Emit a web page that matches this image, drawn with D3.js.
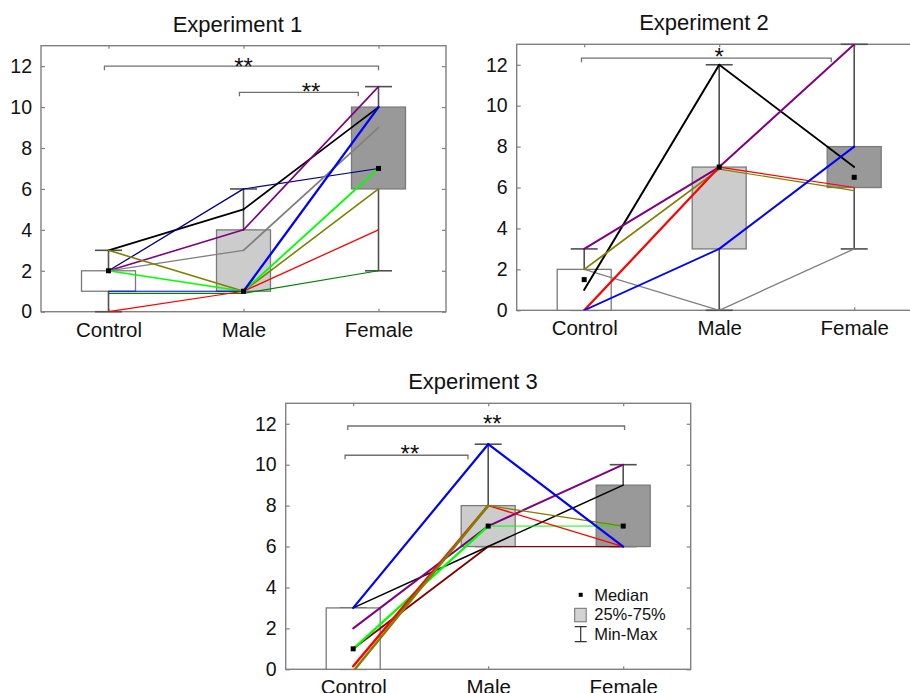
<!DOCTYPE html>
<html>
<head>
<meta charset="utf-8">
<script src="https://cdn.jsdelivr.net/npm/d3@7"></script>
<style>
  body { margin: 0; background: #fff; }
  svg { display: block; }
  text { font-family: "Liberation Sans", Arial, sans-serif; fill: #111; }
</style>
</head>
<body>
<div id="chart"></div>
<script>
var categories = ["Control", "Male", "Female"];
var yTicks = [0, 2, 4, 6, 8, 10, 12];
var titles = ["Experiment 1", "Experiment 2", "Experiment 3"];
var legendLabels = ["Median", "25%-75%", "Min-Max"];

// box stats per category: [min, q1, median, q3, max]
var exp1Box = [[0, 1, 2, 2, 3], [1, 1, 1, 4, 6], [2, 6, 7, 10, 11]];
var exp2Box = [[0, 0, 1.5, 2, 3], [0, 3, 7, 7, 12], [3, 6, 6.5, 8, 13]];
var exp3Box = [[0, 0, 1, 3, 3], [6, 6, 7, 8, 11], [6, 6, 7, 9, 10]];

// individual subjects: [Control, Male, Female]
var exp1Subjects = [
    [3, 5, 10],
    [2, 6, 7],
    [2, 4, 11],
    [2, 3, 9],
    [3, 1, 6],
    [2, 1, 7],
    [1, 1, 10],
    [0.9, 0.9, 2],
    [0, 1, 4]
];
var exp2Subjects = [
    [2, 0, 3],
    [1, 12, 7],
    [3, 7, 13],
    [2, 6.9, 5.85],
    [0, 7, 6],
    [0, 3, 8]
];
var exp3Subjects = [
    [1, 6, 6],
    [3, 6, 9],
    [2, 7, 10],
    [1, 7, 7],
    [0.15, 8, 6],
    [-0.1, 8, 7],
    [3, 11, 6]
];

// significance brackets: [from, to, height, label, label x, label y] (category / y units)
var exp1Sig = [[-0.03, 2.0, 12, "**", 1.0, 12.25], [0.97, 1.85, 10.72, "**", 1.5, 11.05]];
var exp2Sig = [[-0.02, 1.83, 12.32, "*", 1.0, 12.69]];
var exp3Sig = [[-0.04, 2.01, 11.89, "**", 1.03, 12.3], [-0.06, 0.85, 10.46, "**", 0.42, 10.79]];

// styles (widths per segment: Control-Male, Male-Female)
var exp1Colors = ["#000000", "#000080", "#800080", "#808080", "#808000", "#00ff00", "#0000ff", "#008000", "#ff0000"];
var exp1Widths = [[1.7, 1.7], [1.3, 1.1], [1.6, 1.6], [1.3, 1.8], [1.6, 1.6], [1.5, 1.8], [1, 2.3], [1.2, 1.2], [1.2, 1.3]];
var exp2Colors = ["#808080", "#000000", "#800080", "#808000", "#ff0000", "#0000ff"];
var exp2Widths = [[1.3, 1.3], [2, 1.8], [2, 2], [1.8, 1.2], [2.2, 1.2], [1.8, 2]];
var exp3Colors = ["#800000", "#000000", "#800080", "#00ff00", "#ff0000", "#808000", "#0000ff"];
var exp3Widths = [[1.8, 1.2], [1.5, 1.5], [2, 2], [2.2, 1], [2.5, 1.3], [2.5, 1.3], [2.2, 2.2]];
var boxFills = ["#ffffff", "#cccccc", "#999999"];

var W = 910, H = 693;
var plotW = 405, plotH = 266;

var svg = d3.select("#chart").append("svg")
    .attr("width", W)
    .attr("height", H);

function drawPanel(opt) {
    var g = svg.append("g")
        .attr("transform", "translate(" + opt.left + "," + opt.top + ")");

    var x = d3.scaleLinear().domain([-0.5, 2.5]).range([0, plotW]);
    var y = d3.scaleLinear().domain([0, 13]).range([plotH, 0]);

    g.append("clipPath")
        .attr("id", "clip" + opt.id)
        .append("rect")
        .attr("width", plotW)
        .attr("height", plotH);

    // title
    svg.append("text")
        .attr("x", opt.titleX)
        .attr("y", opt.titleY)
        .attr("text-anchor", "middle")
        .attr("font-size", "22px")
        .text(opt.title);

    // axes with inward ticks
    var ax = g.append("g");
    ax.append("g")
        .call(d3.axisLeft(y).tickValues(yTicks).tickSize(-4).tickPadding(9))
        .call(styleAxis)
        .selectAll(".tick text").attr("font-size", "19.5px");
    ax.append("g")
        .attr("transform", "translate(" + plotW + ",0)")
        .call(d3.axisRight(y).tickValues(yTicks).tickSize(-4).tickFormat(""))
        .call(styleAxis);
    ax.append("g")
        .attr("transform", "translate(0," + plotH + ")")
        .call(d3.axisBottom(x).tickValues([0, 1, 2]).tickSize(-3).tickPadding(10.5)
            .tickFormat(function(d) { return categories[d]; }))
        .call(styleAxis)
        .selectAll(".tick text").attr("font-size", "20.5px");
    ax.append("g")
        .call(d3.axisTop(x).tickValues([0, 1, 2]).tickSize(-3).tickFormat(""))
        .call(styleAxis);

    g.append("rect")
        .attr("x", 0).attr("y", 0)
        .attr("width", plotW).attr("height", plotH)
        .attr("fill", "none")
        .attr("stroke", "#808080")
        .attr("stroke-width", 1.4);

    var boxW = 54, capW = 27;

    // whiskers
    g.selectAll(".whisker")
        .data(opt.box)
        .enter()
        .append("line")
        .attr("x1", function(d, i) { return x(i); })
        .attr("x2", function(d, i) { return x(i); })
        .attr("y1", function(d) { return y(d[0]); })
        .attr("y2", function(d) { return y(d[4]); })
        .attr("stroke", "#505050")
        .attr("stroke-width", 1.6);

    [0, 4].forEach(function(k) {
        g.selectAll(".cap" + k)
            .data(opt.box)
            .enter()
            .append("line")
            .attr("x1", function(d, i) { return x(i) - capW / 2; })
            .attr("x2", function(d, i) { return x(i) + capW / 2; })
            .attr("y1", function(d) { return y(d[k]); })
            .attr("y2", function(d) { return y(d[k]); })
            .attr("stroke", "#505050")
            .attr("stroke-width", 1.6);
    });

    // boxes
    g.selectAll(".box")
        .data(opt.box)
        .enter()
        .append("rect")
        .attr("x", function(d, i) { return x(i) - boxW / 2; })
        .attr("y", function(d) { return y(d[3]); })
        .attr("width", boxW)
        .attr("height", function(d) { return y(d[1]) - y(d[3]); })
        .attr("fill", function(d, i) { return boxFills[i]; })
        .attr("stroke", "#7a7a7a")
        .attr("stroke-width", 1.3);

    // subject lines, one segment at a time
    var segs = [];
    opt.subjects.forEach(function(s, j) {
        for (var i = 0; i < s.length - 1; i++) {
            segs.push({ i: i, a: s[i], b: s[i + 1], color: opt.colors[j], w: opt.widths[j][i] });
        }
    });

    g.append("g")
        .attr("clip-path", "url(#clip" + opt.id + ")")
        .selectAll("line")
        .data(segs)
        .enter()
        .append("line")
        .attr("x1", function(d) { return x(d.i); })
        .attr("x2", function(d) { return x(d.i + 1); })
        .attr("y1", function(d) { return y(d.a); })
        .attr("y2", function(d) { return y(d.b); })
        .attr("stroke", function(d) { return d.color; })
        .attr("stroke-width", function(d) { return d.w; })
        .attr("stroke-linecap", "round");

    // medians
    g.selectAll(".median")
        .data(opt.box)
        .enter()
        .append("rect")
        .attr("x", function(d, i) { return x(i) - 2.5; })
        .attr("y", function(d) { return y(d[2]) - 2.5; })
        .attr("width", 5)
        .attr("height", 5)
        .attr("fill", "#000");

    // significance brackets
    var sig = g.selectAll(".sig")
        .data(opt.sig)
        .enter()
        .append("g");
    sig.append("path")
        .attr("d", function(d) {
            var yy = y(d[2]);
            return "M" + x(d[0]) + "," + (yy + 4) + "V" + yy + "H" + x(d[1]) + "V" + (yy + 4);
        })
        .attr("fill", "none")
        .attr("stroke", "#707070")
        .attr("stroke-width", 1.3);
    var starSize = 24;
    sig.append("text")
        .attr("x", function(d) { return x(d[4]); })
        .attr("y", function(d) { return y(d[5]) + 0.58 * starSize; })
        .attr("text-anchor", "middle")
        .attr("font-size", starSize + "px")
        .text(function(d) { return d[3]; });

    return g;
}

function styleAxis(sel) {
    sel.select(".domain").remove();
    sel.selectAll(".tick line").attr("stroke", "#808080").attr("stroke-width", 1.2);
    sel.selectAll(".tick text")
        .attr("font-family", "Liberation Sans, Arial, sans-serif")
        .attr("fill", "#111");
}

drawPanel({
    id: 1, left: 41, top: 45.7, title: titles[0], titleX: 237.5, titleY: 32,
    box: exp1Box, subjects: exp1Subjects, colors: exp1Colors, widths: exp1Widths, sig: exp1Sig
});
drawPanel({
    id: 2, left: 516.7, top: 44.3, title: titles[1], titleX: 704, titleY: 30,
    box: exp2Box, subjects: exp2Subjects, colors: exp2Colors, widths: exp2Widths, sig: exp2Sig
});
var g3 = drawPanel({
    id: 3, left: 285.7, top: 403.3, title: titles[2], titleX: 473, titleY: 389.3,
    box: exp3Box, subjects: exp3Subjects, colors: exp3Colors, widths: exp3Widths, sig: exp3Sig
});

// legend inside panel 3
var lg = g3.append("g").attr("transform", "translate(295,0)");
lg.append("rect")
    .attr("x", -2).attr("y", 189.5)
    .attr("width", 4).attr("height", 4)
    .attr("fill", "#000");
lg.append("rect")
    .attr("x", -6).attr("y", 205)
    .attr("width", 11.5).attr("height", 13.5)
    .attr("fill", "#d3d3d3")
    .attr("stroke", "#707070")
    .attr("stroke-width", 1);
lg.append("path")
    .attr("d", "M-6,223.4H6M0,223.4V238.4M-6,238.4H6")
    .attr("fill", "none")
    .attr("stroke", "#333")
    .attr("stroke-width", 1.2);
lg.selectAll(".lgtext")
    .data(legendLabels)
    .enter()
    .append("text")
    .attr("x", 13.5)
    .attr("y", function(d, i) { return 197.4 + i * 19.7; })
    .attr("font-size", "16.5px")
    .text(function(d) { return d; });
</script>
</body>
</html>
